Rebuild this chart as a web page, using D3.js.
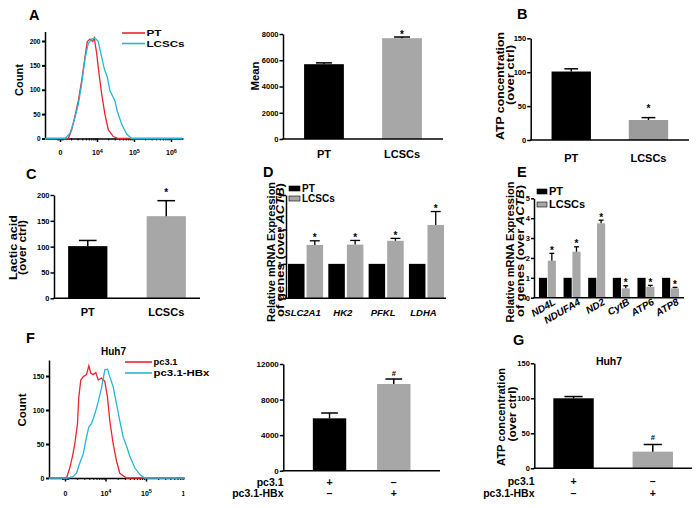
<!DOCTYPE html>
<html><head><meta charset="utf-8">
<script src="https://cdn.jsdelivr.net/npm/d3@7"></script>
<style>
body{margin:0;background:#fff;}
svg{display:block;}
</style></head><body>
<svg id="c" width="699" height="508"></svg>
<script>
const FONT = '"Liberation Sans", Arial, Helvetica, sans-serif';
// ================= DATA =================
// Flow histogram axis (log10 fluorescence units)
const flowTickVals = [3, 4, 5, 6];
const flowTickBase = ["0", "10", "10", "10"];
const flowTickExp = ["", "4", "5", "6"];
const flowYTicksA = [0, 50, 100, 150, 200];
const flowYTicksF = [0, 50, 100, 150];

// Panel A histogram
const aPTLog   = [2.6, 3.224,3.316,3.405,3.495,3.586,3.676,3.738,3.811,3.884,3.927,3.992,4.054,4.127,4.216,4.305,4.441,4.576, 6.3];
const aPTCount = [0,   0,    18,   46,   77,   119,  167,  199,  204,  199,  206,  174,  133,  91,   49,   18,   4,    0,     0];
const aLCLog   = [2.6, 3.135,3.270,3.378,3.495,3.586,3.676,3.765,3.857,3.946,4.035,4.127,4.197,4.278,4.351,4.486,4.549,4.668,4.803,4.938, 6.3];
const aLCCount = [0,   0,    11,   35,   70,   112,  164,  195,  204,  206,  199,  167,  143,  126,  98,   77,   56,   29,   9,    0,     0];
const aLegend = ["PT", "LCSCs"];

// Panel A mean bar
const catsPT = ["PT", "LCSCs"];
const meanA = [5700, 7680];
const meanAErr = [5800, 7770];
const meanATicks = [0, 2000, 4000, 6000, 8000];

// Panel B
const atpB = [101, 29.5];
const atpBErr = [105, 33];
const atpBTicks = [0, 50, 100, 150];

// Panel C
const lacticC = [101, 159];
const lacticCErr = [112, 189];
const lacticCTicks = [0, 50, 100, 150, 200];

// Panel D
const genesD = ["SLC2A1", "HK2", "PFKL", "LDHA"];
const dPT = [1, 1, 1, 1];
const dLC = [1.55, 1.56, 1.67, 2.13];
const dLCErr = [1.67, 1.68, 1.74, 2.52];
const dTicks = [0, 1, 2, 3];

// Panel E
const genesE = ["ND4L", "NDUFA4", "ND2", "CytB", "ATP6", "ATP8"];
const ePT = [1, 1, 1, 1, 1, 1];
const eLC = [1.86, 2.31, 3.74, 0.47, 0.55, 0.47];
const eLCErr = [2.23, 2.56, 3.9, 0.6, 0.62, 0.52];
const eTicks = [0, 1, 2, 3, 4, 5];

// Panel F histogram
const fPCLog   = [2.6, 3.037,3.119,3.178,3.242,3.309,3.341,3.390,3.449,3.531,3.588,3.637,3.696,3.760,3.820,3.901,3.983,4.049,4.106,4.190,4.272,4.353,4.519, 6.0];
const fPCCount = [0,   0,    15,   30,   50,   80,   119,  144,  149,  152,  165,  154,  152,  155,  144,  147,  142,  119,  84,   50,   25,   7,    0,     0];
const fHBLog   = [2.6, 3.079,3.202,3.284,3.365,3.449,3.531,3.588,3.654,3.736,3.820,3.901,3.983,4.049,4.106,4.190,4.272,4.353,4.437,4.519,4.600,4.723,4.847,4.970, 6.0];
const fHBCount = [0,   0,    2,    7,    22,   35,   60,   75,   80,   94,   112,  132,  159,  160,  149,  134,  109,  84,   60,   47,   32,   15,   5,    0,     0];
const fLegend = ["pc3.1", "pc3.1-HBx"];

// Panel F bar
const groupsHBx = ["pc3.1", "pc3.1-HBx"];
const meanF = [5890, 9750];
const meanFErr = [6490, 10310];
const meanFTicks = [0, 4000, 8000, 12000];
const rowPc = ["+", "–"];
const rowHBx = ["–", "+"];

// Panel G
const atpG = [100, 23.8];
const atpGErr = [102.5, 34];
const atpGTicks = [0, 50, 100, 150];

// ================= DRAWING =================
const svg = d3.select("#c").attr("font-family", FONT).attr("font-weight", "bold");
const RED = "#e8262f", CYAN = "#25b6d6", GRAY = "#a7a7a7";

function styleAxis(a, fs, sw) {
  a.attr("font-family", FONT).attr("font-size", fs).attr("font-weight", "bold");
  a.select(".domain").attr("stroke", "#000").attr("stroke-width", sw);
  a.selectAll(".tick line").attr("stroke", "#000").attr("stroke-width", sw);
  a.selectAll(".tick text").attr("fill", "#000");
}

function yTitle(lines, xs, ys, fs, lens) {
  lines.forEach((ln, i) => {
    const t = svg.append("text")
      .attr("transform", `translate(${xs[i]},${ys[i]}) rotate(-90)`)
      .attr("text-anchor", "middle").attr("dy", "0.35em")
      .attr("font-size", fs)
      .attr("textLength", lens[i]).attr("lengthAdjust", "spacingAndGlyphs");
    ln.forEach(seg => t.append("tspan").attr("font-style", seg.it ? "italic" : null).text(seg.t));
  });
}

function letter(t, x, y) {
  svg.append("text").attr("x", x).attr("y", y).attr("font-size", 14.5).text(t);
}

function flowPanel(o) {
  const x = d3.scaleLinear().domain(o.xd).range(o.xr);
  const y = d3.scaleLinear().domain(o.yd).range(o.yr);
  const g = svg.append("g");
  if (o.clip) {
    svg.append("clipPath").attr("id", o.clip.id).append("rect")
      .attr("x", 0).attr("y", o.yr[1] - 40).attr("width", o.clip.x).attr("height", 200);
    g.attr("clip-path", `url(#${o.clip.id})`);
  }
  const y0 = o.yr[0];
  const minor = [];
  [3, 4, 5].forEach(d => { for (let k = 2; k <= 9; k++) minor.push(d + Math.log10(k)); });
  [2.93, 2.96, 3.04, 3.07].forEach(v => minor.push(v));
  const am = g.append("g").attr("transform", `translate(0,${y0})`)
    .call(d3.axisBottom(x).tickValues(minor).tickSize(2).tickSizeOuter(0).tickFormat(""));
  styleAxis(am, 7, 1);
  am.select(".domain").remove();
  const ax = g.append("g").attr("transform", `translate(0,${y0})`)
    .call(d3.axisBottom(x).tickValues(flowTickVals).tickSize(3.5).tickSizeOuter(0).tickPadding(o.xpad));
  styleAxis(ax, 7, 1.5);
  ax.selectAll(".tick text").each(function(d, i) {
    const t = d3.select(this).text(null);
    t.append("tspan").text(flowTickBase[i]);
    if (flowTickExp[i]) t.append("tspan").attr("dy", "-0.45em").attr("font-size", 5.5).text(flowTickExp[i]);
  });
  const ay = g.append("g").attr("transform", `translate(${o.xr[0]},0)`)
    .call(d3.axisLeft(y).tickValues(o.yticks).tickSize(3).tickSizeOuter(0).tickPadding(1.5));
  styleAxis(ay, o.ytfs, 1.5);
  ay.selectAll(".tick line").attr("stroke-width", 2);
  const line = d3.line().x(d => x(d[0])).y(d => y(d[1]));
  o.series.forEach(s => {
    g.append("path").datum(d3.zip(s.x, s.y)).attr("d", line)
      .attr("fill", "none").attr("stroke", s.color).attr("stroke-width", 1.3);
  });
  o.series.forEach((s, i) => {
    const ly = o.leg.y[i];
    svg.append("line").attr("x1", o.leg.x1).attr("x2", o.leg.x2).attr("y1", ly).attr("y2", ly)
      .attr("stroke", s.color).attr("stroke-width", 1.6);
    svg.append("text").attr("x", o.leg.x2 + 1.5).attr("y", ly + 0.36 * o.leg.fs)
      .attr("font-size", o.leg.fs)
      .attr("textLength", o.leg.lens[i]).attr("lengthAdjust", "spacingAndGlyphs")
      .text(o.leg.labels[i]);
  });
  return { x, y };
}

function barPanel(o) {
  const x = d3.scaleBand().domain(o.cats).range(o.xr).paddingInner(o.pi).paddingOuter(o.po);
  const y = d3.scaleLinear().domain(o.yd).range(o.yr);
  const g = svg.append("g");
  g.selectAll("rect").data(o.cats).join("rect")
    .attr("x", d => x(d)).attr("width", x.bandwidth())
    .attr("y", (d, i) => y(o.vals[i])).attr("height", (d, i) => y(0) - y(o.vals[i]))
    .attr("fill", (d, i) => o.colors[i]);
  o.cats.forEach((c, i) => {
    const cx = x(c) + x.bandwidth() / 2;
    const cw = x.bandwidth() * o.capFrac / 2;
    g.append("line").attr("x1", cx).attr("x2", cx).attr("y1", y(o.vals[i])).attr("y2", y(o.errs[i]))
      .attr("stroke", "#000").attr("stroke-width", 1.5);
    g.append("line").attr("x1", cx - cw).attr("x2", cx + cw).attr("y1", y(o.errs[i])).attr("y2", y(o.errs[i]))
      .attr("stroke", "#000").attr("stroke-width", 1.5);
    if (o.marks[i]) {
      g.append("text").attr("x", cx).attr("y", y(o.errs[i]) - o.markOff)
        .attr("text-anchor", "middle").attr("font-size", o.markFs).text(o.marks[i]);
    }
  });
  const ay = g.append("g").attr("transform", `translate(${o.xr[0]},0)`)
    .call(d3.axisLeft(y).tickValues(o.ticks).tickSize(3.5).tickSizeOuter(0).tickPadding(1).tickFormat(d3.format("d")));
  styleAxis(ay, o.tfs, 1.5);
  g.append("line").attr("x1", o.xr[0] - 0.75).attr("x2", o.xr[1]).attr("y1", y(0)).attr("y2", y(0))
    .attr("stroke", "#000").attr("stroke-width", 1.5);
  if (o.xlabY) {
    o.cats.forEach(c => {
      g.append("text").attr("x", x(c) + x.bandwidth() / 2).attr("y", o.xlabY)
        .attr("text-anchor", "middle").attr("font-size", o.xlabFs).text(c);
    });
  }
  return { x, y };
}

function groupPanel(o) {
  const x = d3.scaleBand().domain(o.cats).range(o.xr).paddingInner(o.pi).paddingOuter(o.po);
  const xs = d3.scaleBand().domain([0, 1]).range([0, x.bandwidth()]).paddingInner(o.spi);
  const y = d3.scaleLinear().domain(o.yd).range(o.yr);
  const g = svg.append("g");
  o.cats.forEach((c, i) => {
    const series = [[o.v0[i], null, "#000"], [o.v1[i], o.e1[i], GRAY]];
    series.forEach((s, j) => {
      const bx = x(c) + xs(j);
      g.append("rect").attr("x", bx).attr("width", xs.bandwidth())
        .attr("y", y(s[0])).attr("height", y(0) - y(s[0])).attr("fill", s[2]);
      if (s[1] != null) {
        const cx = bx + xs.bandwidth() / 2, cw = xs.bandwidth() * 0.3;
        g.append("line").attr("x1", cx).attr("x2", cx).attr("y1", y(s[0])).attr("y2", y(s[1]))
          .attr("stroke", "#000").attr("stroke-width", 1.3);
        g.append("line").attr("x1", cx - cw).attr("x2", cx + cw).attr("y1", y(s[1])).attr("y2", y(s[1]))
          .attr("stroke", "#000").attr("stroke-width", 1.3);
        g.append("text").attr("x", cx).attr("y", y(s[1]) + 0.5).attr("text-anchor", "middle")
          .attr("font-size", 10).text("*");
      }
    });
  });
  const ay = g.append("g").attr("transform", `translate(${o.xr[0]},0)`)
    .call(d3.axisLeft(y).tickValues(o.ticks).tickSize(3).tickSizeOuter(0).tickPadding(1).tickFormat(d3.format("d")));
  styleAxis(ay, 7.5, 1.5);
  g.append("line").attr("x1", o.xr[0] - 0.75).attr("x2", o.xr[1]).attr("y1", y(0)).attr("y2", y(0))
    .attr("stroke", "#000").attr("stroke-width", 1.5);
  ["#000", GRAY].forEach((col, j) => {
    g.append("rect").attr("x", o.leg.x).attr("y", o.leg.y[j] - 2.5).attr("width", o.leg.w).attr("height", 5)
      .attr("fill", col).attr("stroke", "#000").attr("stroke-width", 0.6);
    g.append("text").attr("x", o.leg.x + o.leg.w + 2).attr("y", o.leg.y[j] + 0.36 * o.leg.fs)
      .attr("font-size", o.leg.fs).text(catsPT[j]);
  });
  return { x, y };
}

// ---------- Panel A (histogram) ----------
letter("A", 29, 19.5);
flowPanel({
  xd: [2.595, 6.324], xr: [45, 183], yd: [0, 219.5], yr: [138.5, 31.5],
  yticks: flowYTicksA, ytfs: 6.5, xpad: 8.5,
  series: [{ x: aPTLog, y: aPTCount, color: RED }, { x: aLCLog, y: aLCCount, color: CYAN }],
  leg: { x1: 122, x2: 145, y: [33, 43.5], fs: 9.5, labels: aLegend, lens: [15, 38] }
});
yTitle([[{ t: "Count" }]], [19], [80], 11, [32]);

// ---------- Panel A (mean bar) ----------
barPanel({
  cats: catsPT, vals: meanA, errs: meanAErr, colors: ["#000", GRAY],
  xr: [283, 443], pi: 0.49, po: 0.27, yd: [0, 8000], yr: [139, 34], ticks: meanATicks, tfs: 7.5,
  capFrac: 0.4, marks: [null, "*"], markOff: -0.5, markFs: 10, xlabY: 158, xlabFs: 11
});
yTitle([[{ t: "Mean" }]], [255], [76], 11, [29]);

// ---------- Panel B ----------
letter("B", 517, 18.5);
barPanel({
  cats: catsPT, vals: atpB, errs: atpBErr, colors: ["#000", "#9c9c9c"],
  xr: [530.7, 689], pi: 0.49, po: 0.27, yd: [0, 150], yr: [140, 38.3], ticks: atpBTicks, tfs: 7.5,
  capFrac: 0.35, marks: [null, "*"], markOff: 6, markFs: 10, xlabY: 162, xlabFs: 11
});
yTitle([[{ t: "ATP concentration" }], [{ t: "(over ctrl)" }]], [500.5, 510], [86, 75], 11, [108, 60]);

// ---------- Panel C ----------
letter("C", 26, 178.5);
barPanel({
  cats: catsPT, vals: lacticC, errs: lacticCErr, colors: ["#000", GRAY],
  xr: [54, 200], pi: 0.5, po: 0.18, yd: [0, 200], yr: [298.3, 195], ticks: lacticCTicks, tfs: 7.5,
  capFrac: 0.45, marks: [null, "*"], markOff: 4.5, markFs: 10, xlabY: 316, xlabFs: 11
});
yTitle([[{ t: "Lactic acid" }], [{ t: "(over ctrl)" }]], [13, 22.5], [247.5, 247.5], 11, [65, 55]);

// ---------- Panel D ----------
letter("D", 263, 177);
const pD = groupPanel({
  cats: genesD, v0: dPT, v1: dLC, e1: dLCErr,
  xr: [286, 446], pi: 0.13, po: 0.05, spi: 0.11, yd: [0, 3], yr: [298.3, 195], ticks: dTicks,
  leg: { x: 289, w: 11, y: [188.5, 198.5], fs: 10 }
});
genesD.forEach(gn => {
  svg.append("text").attr("x", pD.x(gn) + pD.x.bandwidth() / 2 - 3).attr("y", 316)
    .attr("text-anchor", "middle").attr("font-size", 9.5).attr("font-style", "italic").text(gn);
});
yTitle([[{ t: "Relative mRNA Expression" }], [{ t: "of genes (over " }, { t: "ACTB", it: true }, { t: ")" }]],
  [271, 280.5], [252, 250], 10.5, [140, 134]);

// ---------- Panel E ----------
letter("E", 517, 177);
const pE = groupPanel({
  cats: genesE, v0: ePT, v1: eLC, e1: eLCErr,
  xr: [534, 684], pi: 0.31, po: 0.2, spi: 0.08, yd: [0, 5], yr: [297.7, 198.3], ticks: eTicks,
  leg: { x: 537, w: 10, y: [191.5, 204.5], fs: 11 }
});
genesE.forEach(gn => {
  const cx = pE.x(gn) + pE.x.bandwidth() / 2 + 9;
  svg.append("text").attr("transform", `translate(${cx},304) rotate(-30)`)
    .attr("text-anchor", "end").attr("font-size", 10).attr("font-style", "italic").text(gn);
});
yTitle([[{ t: "Relative mRNA Expression" }], [{ t: "of genes (over " }, { t: "ACTB", it: true }, { t: ")" }]],
  [510, 520], [252, 251], 10.5, [141, 132]);

// ---------- Panel F (histogram) ----------
letter("F", 26, 343);
svg.append("text").attr("x", 113.5).attr("y", 355).attr("text-anchor", "middle").attr("font-size", 10).text("Huh7");
flowPanel({
  xd: [2.605, 5.963], xr: [49, 185], yd: [0, 173.5], yr: [478, 360],
  yticks: flowYTicksF, ytfs: 7, xpad: 9.5, clip: { id: "clipF", x: 184.5 },
  series: [{ x: fPCLog, y: fPCCount, color: RED }, { x: fHBLog, y: fHBCount, color: CYAN }],
  leg: { x1: 125, x2: 152, y: [362, 373], fs: 9.5, labels: fLegend, lens: [24, 56] }
});
yTitle([[{ t: "Count" }]], [22.5], [410], 11, [33]);

// ---------- Panel F (mean bar) ----------
const pF = barPanel({
  cats: groupsHBx, vals: meanF, errs: meanFErr, colors: ["#000", GRAY],
  xr: [283.3, 440], pi: 0.48, po: 0.46, yd: [0, 12000], yr: [470.7, 364], ticks: meanFTicks, tfs: 8,
  capFrac: 0.5, marks: [null, "#"], markOff: 3.5, markFs: 7.5, xlabY: null
});
function rowLabels(p, xRight, ys, fs) {
  [rowPc, rowHBx].forEach((row, r) => {
    svg.append("text").attr("x", xRight).attr("y", ys[r] + 0.36 * fs).attr("text-anchor", "end")
      .attr("font-size", fs).text(groupsHBx[r]);
    row.forEach((s, i) => {
      const c = p.x.domain()[i];
      svg.append("text").attr("x", p.x(c) + p.x.bandwidth() / 2).attr("y", ys[r] + 0.36 * fs)
        .attr("text-anchor", "middle").attr("font-size", fs).text(s);
    });
  });
}
rowLabels(pF, 283.5, [482, 493.3], 10.5);

// ---------- Panel G ----------
letter("G", 513, 345);
svg.append("text").attr("x", 609).attr("y", 365).attr("text-anchor", "middle").attr("font-size", 10.5).text("Huh7");
const pG = barPanel({
  cats: groupsHBx, vals: atpG, errs: atpGErr, colors: ["#000", GRAY],
  xr: [534.3, 692], pi: 0.49, po: 0.24, yd: [0, 150], yr: [468.3, 363.3], ticks: atpGTicks, tfs: 7.5,
  capFrac: 0.45, marks: [null, "#"], markOff: 4.5, markFs: 7.5, xlabY: null
});
rowLabels(pG, 534.5, [481.7, 493], 10.5);
yTitle([[{ t: "ATP concentration" }], [{ t: "(over ctrl)" }]], [501, 512], [417, 414], 11, [98, 55]);
</script>
</body></html>
